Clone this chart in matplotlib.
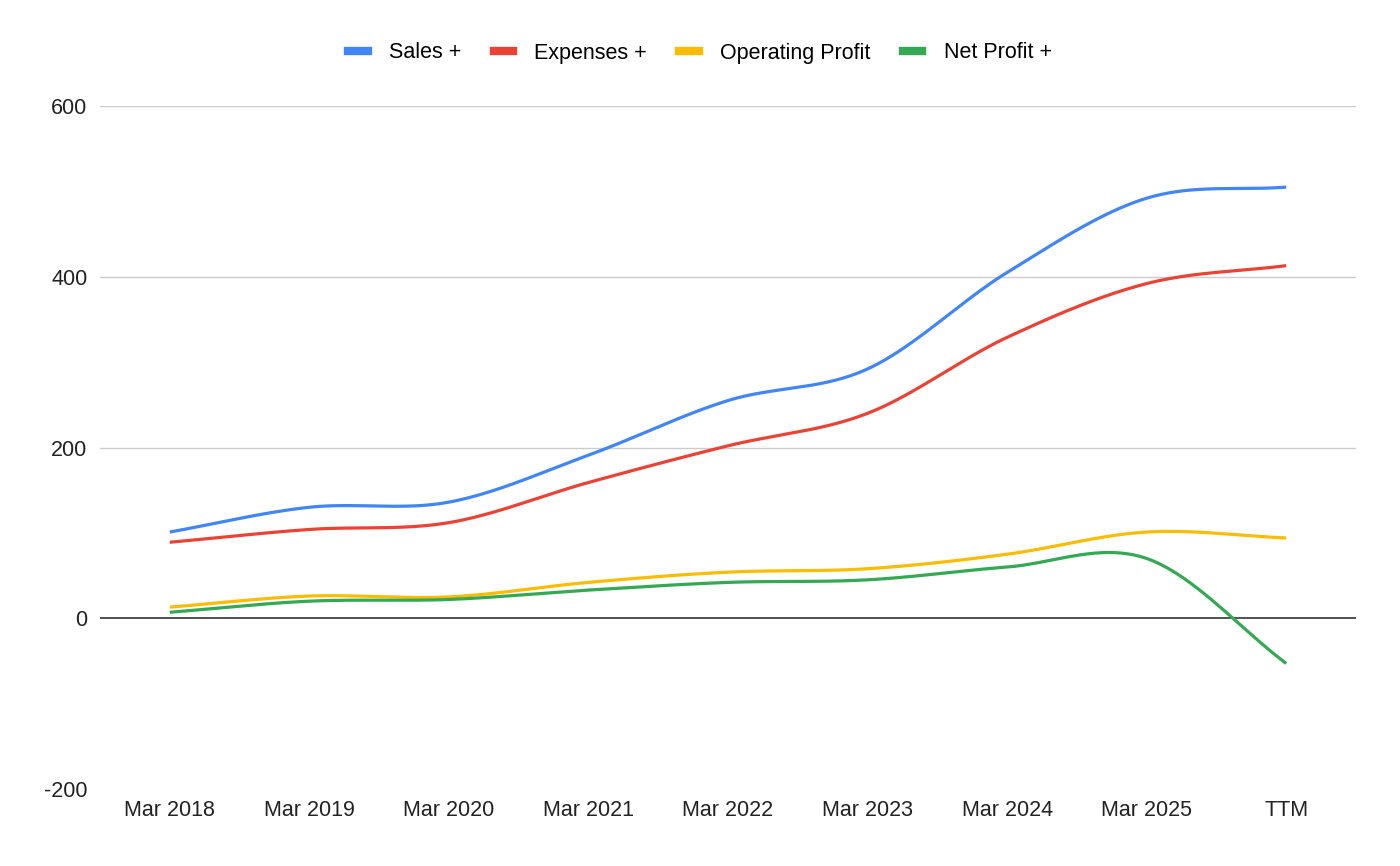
import numpy as np
import matplotlib
matplotlib.use("Agg")
import matplotlib.pyplot as plt
from matplotlib.lines import Line2D

plt.rcParams['font.family'] = ['Liberation Sans', 'DejaVu Sans']
plt.rcParams['axes.unicode_minus'] = False

# data
labels = ["Mar 2018", "Mar 2019", "Mar 2020", "Mar 2021", "Mar 2022",
          "Mar 2023", "Mar 2024", "Mar 2025", "TTM"]
sales = [101, 130, 136, 191, 255, 292, 405, 492, 505]
expenses = [89, 104, 112, 159, 202, 240, 329, 392, 413]
op_profit = [13, 26, 25, 42, 54, 58, 75, 101, 94]
net_profit = [7, 20, 22, 33, 42, 45, 60, 70, -53]

series = [("Sales +", sales, "#4285F4"),
          ("Expenses +", expenses, "#EA4335"),
          ("Operating Profit", op_profit, "#FBBC04"),
          ("Net Profit +", net_profit, "#34A853")]


def smooth(y, n=40):
    # cubic hermite with catmull-rom tangents (like google "function" curves)
    y = np.asarray(y, dtype=float)
    x = np.arange(len(y), dtype=float)
    m = np.zeros_like(y)
    m[1:-1] = (y[2:] - y[:-2]) / 2
    m[0] = y[1] - y[0]
    m[-1] = y[-1] - y[-2]
    xs, ys = [], []
    for i in range(len(y) - 1):
        t = np.linspace(0, 1, n, endpoint=(i == len(y) - 2))
        h00 = 2*t**3 - 3*t**2 + 1
        h10 = t**3 - 2*t**2 + t
        h01 = -2*t**3 + 3*t**2
        h11 = t**3 - t**2
        xs.append(x[i] + t)
        ys.append(h00*y[i] + h10*m[i] + h01*y[i+1] + h11*m[i+1])
    return np.concatenate(xs), np.concatenate(ys)


fig = plt.figure(figsize=(14, 8.66), dpi=100)
ax = fig.add_axes([100/1400, 1-789/866, 1256/1400, 683/866])

for name, vals, col in series:
    xs, ys = smooth(vals)
    ax.plot(xs, ys, color=col, linewidth=2.3, solid_capstyle='butt', zorder=3)

ax.set_xlim(-0.5, 8.5)
ax.set_ylim(-200, 600)
ax.set_yticks([-200, 0, 200, 400, 600])
ax.set_xticks(range(len(labels)))
ax.set_xticklabels(labels)
ax.tick_params(length=0, labelsize=15.5, colors="#222222", pad=8)
ax.tick_params(axis='y', pad=9)
for yv in [200, 400, 600]:
    ax.axhline(yv, color="#cccccc", linewidth=1, zorder=1)
ax.axhline(0, color="#333333", linewidth=1.2, zorder=2)
for s in ax.spines.values():
    s.set_visible(False)

handles = [Line2D([], [], color=c, linewidth=6) for _, _, c in series]
fig.legend(handles, [n for n, _, _ in series], loc='center',
           bbox_to_anchor=(0.5, 1-53/866), ncol=4, frameon=False,
           fontsize=15.5, handlelength=0.9, handletextpad=1.0, columnspacing=1.5)

fig.savefig("out.png", dpi=100)
